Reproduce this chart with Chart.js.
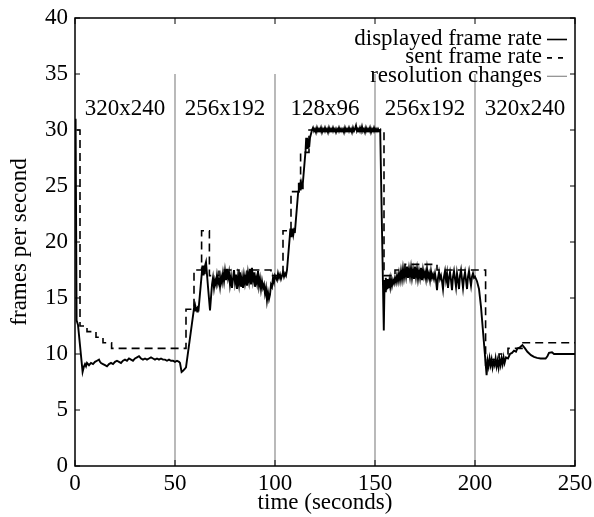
<!DOCTYPE html>
<html>
<head>
<meta charset="utf-8">
<script src="https://cdn.jsdelivr.net/npm/chart.js@4.4.1/dist/chart.umd.min.js"></script>
<style>
  html, body { margin: 0; padding: 0; background: #fff; }
  #wrap { width: 594px; height: 517px; }
</style>
</head>
<body>
<div id="wrap"><canvas id="fps"></canvas></div>
<script>
// displayed frame rate, [time (s), fps]
const displayedRate = [
  [0.3, 31], [0.8, 13.0], [1.5, 12.6], [3.8, 8.4], [4.5, 8.9], [5, 9.1], [5.5, 8.9], [6, 9.2], [7, 9.0], [8, 9.2],
  [9, 9.1], [10, 9.3], [11, 9.4], [12, 9.5], [12.5, 9.3], [13, 9.2], [14, 9.1], [15, 9.0], [16, 8.9], [17, 9.1],
  [18, 9.2], [19, 9.1], [20, 9.3], [21, 9.4], [22, 9.3], [23, 9.2], [24, 9.4], [25, 9.5], [26, 9.4], [27, 9.6],
  [28, 9.5], [29, 9.4], [30, 9.6], [31, 9.7], [32, 9.8], [33, 9.6], [34, 9.5], [35, 9.6], [36, 9.5], [37, 9.6],
  [38, 9.7], [39, 9.6], [40, 9.5], [41, 9.6], [42, 9.5], [43, 9.6], [44, 9.5], [45, 9.5], [46, 9.4], [47, 9.5],
  [48, 9.4], [49, 9.4], [50, 9.3], [51, 9.4], [52, 9.3], [52.5, 9.2], [53.3, 8.4], [54, 8.5], [55, 8.7], [55.5, 8.8],
  [59.3, 13.8], [59.6, 14.2], [59.9, 13.8], [60.2, 14.2], [60.5, 13.9], [60.8, 14.2], [61.1, 13.8], [61.4, 14.1], [61.8, 14.0],
  [63.4, 17.2], [63.7, 17.9], [64, 17.1], [64.3, 17.9], [64.6, 17.2], [64.9, 17.8], [65.5, 18.2], [66.5, 16.0], [67.5, 13.9],
  [68.5, 16.2], [69, 16.8], [69.5, 15.9], [70, 16.6], [70.5, 16.2], [71, 17.0], [71.5, 16.3], [72, 16.7], [72.5, 16.0],
  [73, 16.9], [73.5, 16.4], [74, 17.2], [74.5, 16.5], [75, 17.4], [75.5, 16.6], [76, 17.6], [76.5, 16.8], [77, 17.3],
  [77.5, 16.2], [78, 16.9], [78.5, 15.9], [79, 16.7], [79.5, 17.5], [80, 16.4], [80.5, 17.1], [81, 15.8], [81.5, 16.9],
  [82, 16.2], [82.5, 17.3], [83, 16.0], [83.5, 16.8], [84, 15.9], [84.5, 17.0], [85, 16.3], [85.5, 16.9], [86, 16.1],
  [86.5, 17.2], [87, 16.5], [87.5, 17.6], [88, 16.2], [88.5, 17.7], [89, 16.6], [89.5, 17.3], [90, 16.0], [90.5, 16.8],
  [91, 16.3], [91.5, 17.4], [92, 16.1], [92.5, 16.7], [93, 15.8], [93.5, 16.5], [94, 15.9], [94.5, 16.2], [95, 15.4],
  [95.5, 15.9], [96, 14.8], [96.5, 15.5], [97, 14.9], [97.5, 15.3], [98, 16.2], [98.5, 16.0], [99, 16.8], [99.5, 16.4],
  [100, 17.0], [101, 16.6], [101.5, 17.2], [102, 16.8], [102.5, 17.1], [103, 16.7], [104, 17.3], [104.5, 16.9], [105, 17.2],
  [105.5, 17.0], [106, 17.5],
  [107.4, 20.5], [107.7, 21.2], [108, 20.5], [108.3, 21.2], [108.6, 20.6], [108.9, 21.2], [109.2, 20.7], [109.6, 21.1], [110, 21.0],
  [111.6, 24.5], [111.9, 25.3], [112.2, 24.6], [112.5, 25.3], [112.8, 24.6], [113.1, 25.2], [113.5, 24.8], [113.9, 25.2],
  [115.3, 28.2], [115.6, 29.3], [115.9, 28.3], [116.2, 29.3], [116.5, 28.4], [116.8, 29.2], [117.1, 28.5], [117.5, 29.3], [118.5, 30.0],
  [119, 30.2], [119.5, 29.9], [120, 30.1], [120.5, 29.8], [121, 30.2], [121.5, 29.9], [122, 30.1], [122.5, 29.9], [123, 30.2],
  [123.5, 29.8], [124, 30.1], [124.5, 29.9], [125, 30.2], [125.5, 29.9], [126, 30.1], [126.5, 29.8], [127, 30.2], [127.5, 29.9],
  [128, 30.1], [128.5, 29.9], [129, 30.2], [129.5, 29.9], [130, 30.1], [130.5, 29.8], [131, 30.1], [131.5, 29.9], [132, 30.2],
  [132.5, 29.9], [133, 30.1], [133.5, 29.9], [134, 30.1], [134.5, 29.8], [135, 30.2], [135.5, 29.9], [136, 30.1], [136.5, 29.9],
  [137, 30.2], [137.5, 29.9], [138, 30.1], [138.5, 29.8], [139, 30.2], [139.5, 29.9], [140, 30.1], [140.5, 30.4], [141, 29.9],
  [141.5, 30.1], [142, 29.9], [142.5, 30.2], [143, 29.9], [143.5, 30.3], [144, 29.9], [144.5, 30.1], [145, 29.8], [145.5, 30.2],
  [146, 29.9], [146.5, 30.1], [147, 29.9], [147.5, 30.2], [148, 29.8], [148.5, 30.1], [149, 29.9], [149.5, 30.2], [150, 29.9],
  [150.5, 30.1], [151, 29.9], [151.5, 30.1], [152, 29.9], [152.6, 30.0],
  [154.4, 12.1], [154.8, 16.6], [155.1, 15.6], [155.4, 16.8], [155.7, 15.7], [156, 16.7], [156.3, 15.8], [156.6, 16.6],
  [156.9, 15.9], [157.2, 16.5], [157.6, 16.0], [158, 16.7], [158.5, 16.1], [159, 16.6], [159.5, 16.3], [160, 16.8],
  [160.5, 16.4], [161, 17.0], [161.5, 16.5], [162, 17.2], [162.5, 16.6], [163, 17.4], [163.5, 16.7], [164, 17.6],
  [164.5, 16.8], [165, 17.5], [165.5, 16.9], [166, 17.8], [166.5, 16.8], [167, 17.6], [167.5, 16.9], [168, 17.7],
  [168.5, 16.8], [169, 17.5], [169.5, 16.7], [170, 17.8], [170.5, 16.9], [171, 17.6], [171.5, 16.7], [172, 17.4],
  [172.5, 16.8], [173, 17.7], [173.5, 16.6], [174, 17.5], [174.5, 16.9], [175, 17.3], [175.5, 16.7], [176, 17.6],
  [176.5, 16.8], [177, 17.2], [177.5, 16.6], [178, 17.4], [178.5, 16.8], [179, 17.1], [179.5, 16.7], [180, 17.2],
  [180.5, 16.6], [181, 15.7], [181.5, 16.8], [182, 17.3], [182.5, 16.7], [183, 17.0], [183.5, 16.5], [184, 15.8],
  [184.5, 16.9], [185, 17.4], [185.5, 16.6], [186, 17.2], [186.5, 15.9], [187, 16.8], [187.5, 17.3], [188, 16.6],
  [188.5, 15.7], [189, 16.9], [189.5, 17.4], [190, 16.7], [190.5, 16.0], [191, 17.2], [191.5, 16.6], [192, 15.8],
  [192.5, 17.0], [193, 17.5], [193.5, 16.7], [194, 15.9], [194.5, 16.8], [195, 17.3], [195.5, 16.6], [196, 15.8],
  [196.5, 16.9], [197, 17.4], [197.5, 16.7], [198, 16.1], [198.5, 16.9], [199, 17.2], [199.5, 16.8], [200, 16.9],
  [201, 16.5], [202, 15.8], [203, 14.2], [205.8, 8.1],
  [206.3, 9.4], [206.8, 8.9], [207.3, 9.6], [207.8, 9.0], [208.3, 9.5], [208.8, 8.8], [209.3, 9.3], [209.8, 9.0],
  [210.3, 9.6], [210.8, 8.9], [211.3, 9.4], [211.8, 8.8], [212.3, 9.5], [212.8, 9.0], [213.3, 9.6], [213.8, 9.1],
  [214.3, 9.7], [214.8, 9.2], [215.5, 9.7], [216.5, 9.6], [217.5, 10.0], [218.5, 10.1], [219.5, 10.3], [220.5, 10.2],
  [221.2, 10.5], [222.5, 10.6], [223.7, 10.8], [225, 10.5], [226.2, 10.2], [228, 9.9], [229.5, 9.75], [231, 9.65],
  [232.8, 9.6], [234, 9.6], [235.3, 9.6], [236.2, 9.8], [237, 10.1], [238.5, 10.15], [239.5, 10.0], [242, 10.0],
  [245, 10.0], [250, 10.0]
];

// sent frame rate, held from each time until the next one
const sentRate = [
  [1, 30], [2.5, 12.5], [6, 12], [10.5, 11.5], [14, 11], [18.3, 10.5], [55.5, 14], [59.5, 17.5], [63.3, 21],
  [67.2, 17], [72, 17.5], [82, 17], [86, 17.5], [98, 17], [104, 21], [108, 24.5], [112.8, 28], [117, 30],
  [154.5, 17], [160, 17.5], [165, 18], [181, 17.5], [205.3, 9], [208, 9.5], [212, 10], [216.5, 10.5],
  [223.5, 11], [250, 11]
];

// resolution switches (s) and the height the marker lines reach
const resolutionChanges = [50, 100, 150, 200];
const changeTop = 35;

// resolution of each stretch, written at its middle
const resolutions = ['320x240', '256x192', '128x96', '256x192', '320x240'];
const resolutionMid = [25, 75, 125, 175, 225];
const resolutionLevel = 31.3;

const legendNames = ['displayed frame rate', 'sent frame rate', 'resolution changes'];

const serif = '"Liberation Serif", "Times New Roman", serif';
const grey = '#8c8c8c';

// vertical marker lines, split with null gaps
const changeLines = [];
resolutionChanges.forEach(t => {
  changeLines.push({x: t, y: 0}, {x: t, y: changeTop}, {x: t, y: null});
});

// gnuplot style box: full frame, inward ticks, in-plot labels, key
const framePlugin = {
  id: 'framePlugin',
  afterDatasetsDraw(chart) {
    const {ctx, chartArea: a, scales: {x, y}} = chart;
    ctx.save();
    ctx.strokeStyle = '#000';
    ctx.lineWidth = 1.5;
    ctx.strokeRect(a.left, a.top, a.right - a.left, a.bottom - a.top);

    ctx.beginPath();
    x.ticks.forEach(t => {
      const px = x.getPixelForValue(t.value);
      ctx.moveTo(px, a.bottom); ctx.lineTo(px, a.bottom - 6);
      ctx.moveTo(px, a.top); ctx.lineTo(px, a.top + 6);
    });
    y.ticks.forEach(t => {
      const py = y.getPixelForValue(t.value);
      ctx.moveTo(a.left, py); ctx.lineTo(a.left + 5, py);
      ctx.moveTo(a.right, py); ctx.lineTo(a.right - 5, py);
    });
    ctx.lineWidth = 1;
    ctx.stroke();

    ctx.fillStyle = '#000';
    ctx.font = '23px ' + serif;
    ctx.textAlign = 'center';
    ctx.textBaseline = 'alphabetic';
    resolutions.forEach((r, i) => {
      ctx.fillText(r, x.getPixelForValue(resolutionMid[i]), y.getPixelForValue(resolutionLevel));
    });

    // key, top right
    ctx.textAlign = 'right';
    const textRight = a.right - 33;
    legendNames.forEach((name, i) => {
      const base = a.top + 27 + i * 18.4;
      ctx.fillText(name, textRight, base);
      const ly = base - 5.5;
      ctx.beginPath();
      ctx.moveTo(a.right - 28, ly);
      ctx.lineTo(a.right - 8, ly);
      ctx.lineWidth = i === 2 ? 1.2 : 1.6;
      ctx.strokeStyle = i === 2 ? grey : '#000';
      ctx.setLineDash(i === 1 ? [5, 6] : []);
      ctx.stroke();
    });
    ctx.restore();
  }
};

new Chart(document.getElementById('fps'), {
  type: 'line',
  data: {
    datasets: [
      {
        label: legendNames[0],
        data: displayedRate.map(([t, v]) => ({x: t, y: v})),
        borderColor: '#000',
        borderWidth: 1.9,
        pointRadius: 0,
        tension: 0,
        order: 0
      },
      {
        label: legendNames[1],
        data: sentRate.map(([t, v]) => ({x: t, y: v})),
        borderColor: '#000',
        borderWidth: 1.6,
        borderDash: [8, 5],
        stepped: true,
        pointRadius: 0,
        order: 1
      },
      {
        label: legendNames[2],
        data: changeLines,
        borderColor: grey,
        borderWidth: 1.2,
        pointRadius: 0,
        spanGaps: false,
        order: 2
      }
    ]
  },
  options: {
    responsive: true,
    maintainAspectRatio: false,
    animation: false,
    devicePixelRatio: 1,
    layout: {padding: {top: 18, right: 19, left: 0, bottom: 0}},
    plugins: {legend: {display: false}, tooltip: {enabled: false}},
    scales: {
      x: {
        type: 'linear',
        min: 0,
        max: 250,
        grid: {display: false, drawTicks: false},
        border: {display: false},
        ticks: {stepSize: 50, color: '#000', padding: 4, font: {family: serif, size: 23}},
        title: {display: true, text: 'time (seconds)', color: '#000', padding: {top: 0, bottom: 0}, font: {family: serif, size: 23}},
        // fixed box, and no extra room claimed for the end labels
        afterFit: s => { s.height = 51; s.paddingLeft = 0; s.paddingRight = 0; }
      },
      y: {
        min: 0,
        max: 40,
        grid: {display: false, drawTicks: false},
        border: {display: false},
        ticks: {stepSize: 5, color: '#000', padding: 7, font: {family: serif, size: 23}},
        title: {display: true, text: 'frames per second', color: '#000', padding: {top: 6, bottom: 0}, font: {family: serif, size: 23}},
        afterFit: s => { s.width = 75; s.paddingTop = 0; s.paddingBottom = 0; }
      }
    }
  },
  plugins: [framePlugin]
});
</script>
</body>
</html>
